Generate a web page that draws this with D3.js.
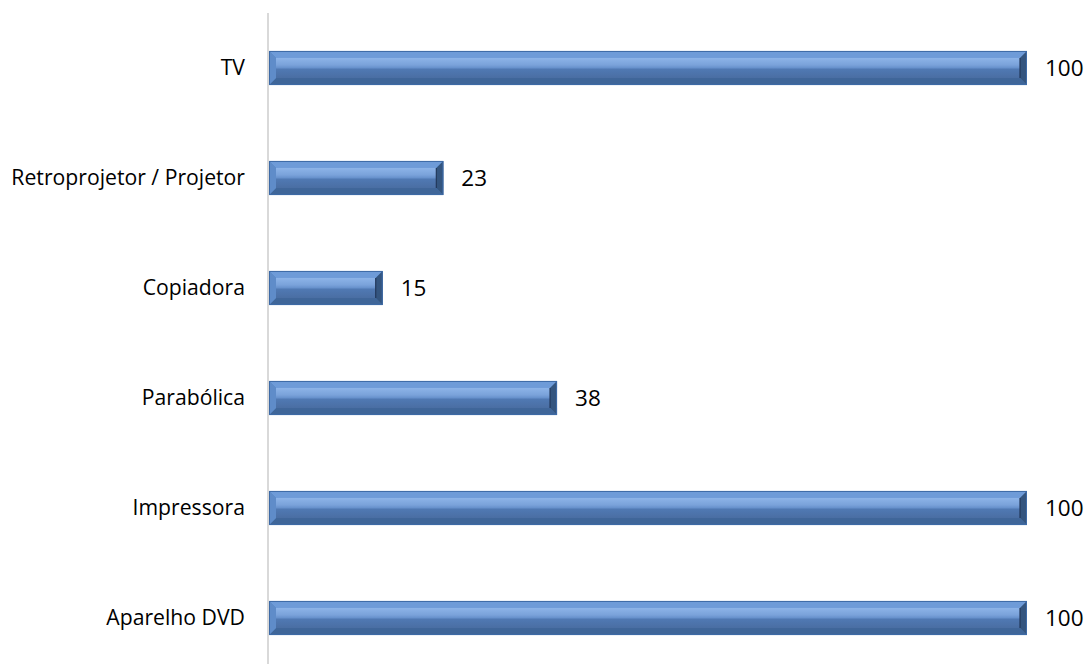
<!DOCTYPE html>
<html><head><meta charset="utf-8">
<script src="https://cdn.jsdelivr.net/npm/d3@7"></script>
<style>body{margin:0;background:#fff;} svg{display:block;}</style>
</head><body>
<script>
const categories = ["TV","Retroprojetor / Projetor","Copiadora","Parabólica","Impressora","Aparelho DVD"];
const values = [100,23,15,38,100,100];

const W=1092,H=664;
const svg=d3.select("body").append("svg").attr("width",W).attr("height",H);
const defs=svg.append("defs");
const g=defs.append("linearGradient").attr("id","face").attr("x1",0).attr("y1",0).attr("x2",0).attr("y2",1);
[["0%","#8db4e8"],["35%","#7aa2da"],["50%","#6690cb"],["55%","#5079b3"],["100%","#4a6ea3"]].forEach(s=>g.append("stop").attr("offset",s[0]).attr("stop-color",s[1]));

const y=d3.scaleBand().domain(categories).range([13,673]).paddingInner(0.69).paddingOuter(0.345);
const x=d3.scaleLinear().domain([0,100]).range([269,1027]);

svg.append("line").attr("x1",268).attr("x2",268).attr("y1",13).attr("y2",H).attr("stroke","#d9d9d9").attr("stroke-width",2);

const b=7;
const bars=svg.selectAll("g.bar").data(categories).join("g").attr("class","bar");
bars.each(function(c,i){
  const gg=d3.select(this);
  const x0=x(0),x1=x(values[i]),y0=y(c),y1=y(c)+y.bandwidth();
  gg.append("rect").attr("x",x0).attr("y",y0).attr("width",x1-x0).attr("height",y1-y0).attr("fill","#4f81bd");
  const poly=(pts,fill)=>gg.append("polygon").attr("points",pts.map(p=>p.join(",")).join(" ")).attr("fill",fill);
  poly([[x0,y0],[x1,y0],[x1-b,y0+b],[x0+b,y0+b]],"#6e9bd8");
  poly([[x0,y1],[x1,y1],[x1-b,y1-b],[x0+b,y1-b]],"#3f6699");
  poly([[x0,y0],[x0+b,y0+b],[x0+b,y1-b],[x0,y1]],"#5f8cc9");
  poly([[x1,y0],[x1-b,y0+b],[x1-b,y1-b],[x1,y1]],"#34557f");
  gg.append("rect").attr("x",x0+b).attr("y",y0+b).attr("width",x1-x0-2*b).attr("height",y1-y0-2*b).attr("fill","url(#face)");
  gg.append("line").attr("x1",x1-b).attr("x2",x1-b).attr("y1",y0+b).attr("y2",y1-b).attr("stroke","#22385a").attr("stroke-width",1.2);
  gg.append("rect").attr("x",x0+0.5).attr("y",y0+0.5).attr("width",x1-x0-1).attr("height",y1-y0-1).attr("fill","none").attr("stroke","#3d6aa6").attr("stroke-width",1);
});

svg.selectAll("text.cat").data(categories).join("text").attr("class","cat")
  .attr("x",245).attr("y",c=>y(c)+y.bandwidth()/2).attr("dy","0.35em")
  .attr("text-anchor","end").attr("font-family","Open Sans, sans-serif").attr("font-size",21.2).attr("fill","#000")
  .text(c=>c);

svg.selectAll("text.val").data(categories).join("text").attr("class","val")
  .attr("x",(c,i)=>x(values[i])+18).attr("y",c=>y(c)+y.bandwidth()/2).attr("dy","0.35em")
  .attr("font-family","Open Sans, sans-serif").attr("font-size",22.5).attr("fill","#000")
  .text((c,i)=>values[i]);
</script>
</body></html>
